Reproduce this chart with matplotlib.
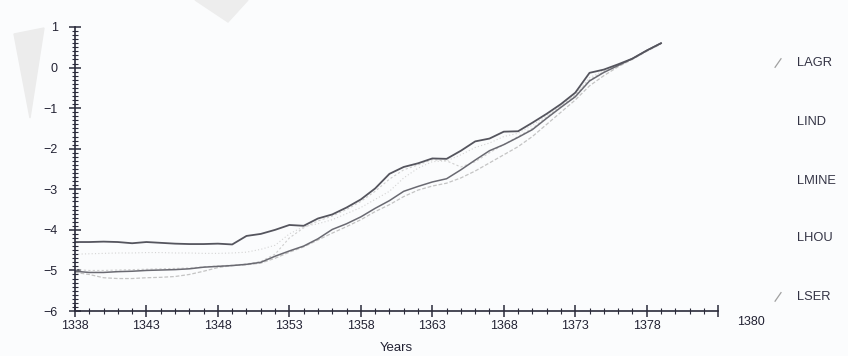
import numpy as np
import matplotlib
matplotlib.use('Agg')
import matplotlib.pyplot as plt
from matplotlib.ticker import MultipleLocator
from matplotlib.patches import Polygon

years = list(range(1338, 1380))

lagr = [-4.30, -4.30, -4.29, -4.30, -4.33, -4.30, -4.32, -4.34, -4.35, -4.35,
        -4.34, -4.36, -4.15, -4.10, -4.00, -3.88, -3.90, -3.72, -3.62, -3.45,
        -3.25, -2.98, -2.62, -2.45, -2.36, -2.24, -2.25, -2.05, -1.82, -1.75,
        -1.58, -1.57, -1.36, -1.14, -0.90, -0.62, -0.13, -0.05, 0.08, 0.22,
        0.42, 0.60]
lind = [-5.02, -5.05, -5.05, -5.03, -5.02, -5.00, -4.99, -4.98, -4.96, -4.92,
        -4.90, -4.88, -4.85, -4.80, -4.65, -4.52, -4.40, -4.22, -3.99, -3.85,
        -3.68, -3.47, -3.28, -3.05, -2.93, -2.82, -2.74, -2.52, -2.28, -2.05,
        -1.90, -1.72, -1.53, -1.25, -0.98, -0.72, -0.33, -0.12, 0.05, 0.22,
        0.42, 0.60]
lmine = [-4.60, -4.59, -4.58, -4.57, -4.57, -4.56, -4.56, -4.57, -4.57, -4.58,
         -4.58, -4.57, -4.55, -4.48, -4.38, -4.10, -3.92, -3.85, -3.75, -3.60,
         -3.45, -3.25, -3.05, -2.72, -2.48, -2.32, -2.30, -2.15, -1.97, -1.86,
         -1.70, -1.62, -1.42, -1.18, -0.93, -0.66, -0.25, -0.08, 0.06, 0.22,
         0.42, 0.60]
lhou = [-4.98, -5.00, -5.00, -4.99, -4.98, -4.97, -4.96, -4.95, -4.94, -4.91,
        -4.89, -4.87, -4.84, -4.78, -4.60, -4.20, -3.95, -3.78, -3.66, -3.50,
        -3.30, -3.05, -2.75, -2.52, -2.40, -2.27, -2.30, -2.45, -2.32, -2.10,
        -1.90, -1.70, -1.50, -1.22, -0.95, -0.68, -0.30, -0.10, 0.05, 0.22,
        0.42, 0.60]
lser = [-5.05, -5.10, -5.18, -5.20, -5.20, -5.18, -5.17, -5.15, -5.10, -5.02,
        -4.93, -4.88, -4.86, -4.82, -4.70, -4.55, -4.42, -4.25, -4.08, -3.92,
        -3.75, -3.55, -3.38, -3.18, -3.02, -2.92, -2.85, -2.72, -2.55, -2.35,
        -2.15, -1.95, -1.70, -1.40, -1.10, -0.80, -0.45, -0.20, 0.02, 0.20,
        0.40, 0.58]

names = ['LAGR', 'LIND', 'LMINE', 'LHOU', 'LSER']
xticks = [1338, 1343, 1348, 1353, 1358, 1363, 1368, 1373, 1378, 1383]
xlabels = ['1338', '1343', '1348', '1353', '1358', '1363', '1368', '1373', '1378', '']
yticks = [-6, -5, -4, -3, -2, -1, 0, 1]

plt.rcParams['font.family'] = ['Liberation Sans', 'DejaVu Sans']

W, H = 848, 356
fig = plt.figure(figsize=(W / 100, H / 100), dpi=100)
bg = '#fbfcfd'
fig.patch.set_facecolor(bg)

def px(pts):
    return [[x / W, 1 - y / H] for x, y in pts]

# faint watermark shapes
fig.patches.append(Polygon(px([(14, 34), (44, 28), (30, 118)]), closed=True,
                           transform=fig.transFigure, color='#ececec', zorder=0))
fig.patches.append(Polygon(px([(195, 0), (248, 0), (228, 22)]), closed=True,
                           transform=fig.transFigure, color='#ededed', zorder=0))

ax = fig.add_axes([0.0884, 0.1264, 0.7585, 0.7978])
ax.set_facecolor('none')

ax.plot(years, lser, color='#c4c4c4', lw=0.9, ls=(0, (3, 1.5)))
ax.plot(years, lhou, color='#cfcfcf', lw=0.8, ls=(0, (2, 2)))
ax.plot(years, lmine, color='#d4d4d4', lw=0.8, ls=(0, (1, 2)))
ax.plot(years, lind, color='#6a6a72', lw=1.1)
ax.plot(years, lagr, color='#55555e', lw=1.3)

ax.set_xlim(1338, 1383)
ax.set_ylim(-6, 1)
for s in ['top', 'right']:
    ax.spines[s].set_visible(False)
for s in ['left', 'bottom']:
    ax.spines[s].set_color('#2a2a3a')
    ax.spines[s].set_linewidth(1.2)

ax.set_xticks(xticks)
ax.set_xticklabels(xlabels)
ax.set_yticks(yticks)
ax.xaxis.set_minor_locator(MultipleLocator(1))
ax.yaxis.set_minor_locator(MultipleLocator(0.1))
ax.tick_params(which='major', direction='inout', length=9, width=1.1, color='#2a2a3a',
               labelsize=9, labelcolor='#222233')
ax.tick_params(axis='y', which='major', pad=8)
ax.tick_params(axis='x', which='major', pad=2)
ax.tick_params(which='minor', direction='inout', length=4, width=0.8, color='#2a2a3a')

ax.set_xlabel('Years', fontsize=9.5, color='#222233', labelpad=7)
ax.text(1385.3, -6.27, '1380', fontsize=9, color='#222233', ha='center', va='center')

# legend entries
leg_y = [0.823, 0.657, 0.492, 0.331, 0.166]
leg_vis = [True, False, False, False, True]
for nm, yy, vis in zip(names, leg_y, leg_vis):
    fig.text(0.940, yy, nm, fontsize=9.3, color='#333344', ha='left', va='center')
    if vis:
        fig.add_artist(plt.Line2D([0.914, 0.921], [yy - 0.012, yy + 0.012],
                                  transform=fig.transFigure, color='#a0a0a0', lw=0.9))

fig.savefig('out.png', dpi=100, facecolor=bg)
